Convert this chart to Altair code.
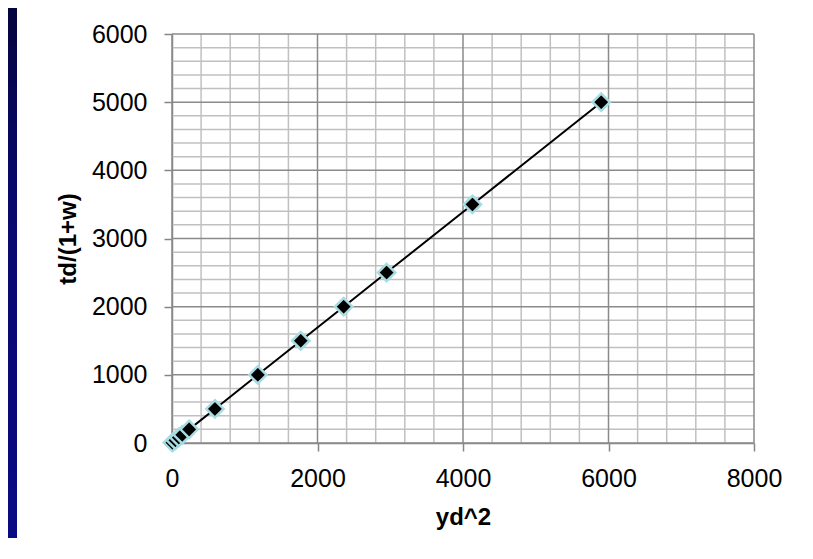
import altair as alt
import pandas as pd

# data
yd2 = [6, 47, 94, 141, 236, 590, 1180, 1770, 2360, 2950, 4130, 5900]
td_1w = [5, 40, 80, 120, 200, 500, 1000, 1500, 2000, 2500, 3500, 5000]

x_major = [0, 2000, 4000, 6000, 8000]
y_major = [0, 1000, 2000, 3000, 4000, 5000, 6000]
x_minor = [v for v in range(0, 8001, 400) if v not in x_major]
y_minor = [v for v in range(0, 6001, 200) if v not in y_major]

W, H = 582, 409
PL, PT, PR, PB = 164, 26, 45, 95
FONT = "Liberation Sans"
AX = "#868686"

df = pd.DataFrame({"x": yd2, "y": td_1w})
xs = alt.Scale(domain=[0, 8000], nice=False, zero=False)
ys = alt.Scale(domain=[0, 6000], nice=False, zero=False)

axis_x = alt.Axis(values=x_major, format="d", title="yd^2", grid=False, domainColor=AX, domainWidth=1.5,
                  tickColor=AX, tickWidth=1.5, tickSize=8, labelPadding=15, labelFlush=False,
                  labelFont=FONT, labelFontSize=25, labelColor="black",
                  titleFont=FONT, titleFontSize=24, titleFontWeight="bold", titleColor="black",
                  titleX=W / 2, titleY=62, titleBaseline="top")
axis_y = alt.Axis(values=y_major, format="d", title="td/(1+w)", grid=False, domainColor=AX, domainWidth=1.5,
                  tickColor=AX, tickWidth=1.5, tickSize=8, labelPadding=17, labelFlush=False,
                  labelFont=FONT, labelFontSize=25, labelColor="black",
                  titleFont=FONT, titleFontSize=24, titleFontWeight="bold", titleColor="black",
                  titleX=-92, titleY=H / 2, titleAngle=-90, titleBaseline="bottom")

X = alt.X("x:Q", scale=xs, axis=axis_x)
Y = alt.Y("y:Q", scale=ys, axis=axis_y)

strip = alt.Chart(pd.DataFrame({"a": [0]})).mark_rect(
    color=alt.LinearGradient(gradient="linear",
                             stops=[alt.GradientStop(color="#05053e", offset=0),
                                    alt.GradientStop(color="#08086c", offset=0.35),
                                    alt.GradientStop(color="#0a0a84", offset=1)],
                             x1=0, x2=0, y1=0, y2=1)
).encode(x=alt.value(-PL), x2=alt.value(-PL + 9), y=alt.value(-PT), y2=alt.value(H + PB))

vminor = alt.Chart(pd.DataFrame({"x": x_minor})).mark_rule(color="#c0c0c0", strokeWidth=1.5).encode(x=X)
hminor = alt.Chart(pd.DataFrame({"y": y_minor})).mark_rule(color="#c0c0c0", strokeWidth=1.5).encode(y=Y)
vmajor = alt.Chart(pd.DataFrame({"x": x_major})).mark_rule(color="#8a8a8a", strokeWidth=1.5).encode(x=X)
hmajor = alt.Chart(pd.DataFrame({"y": y_major})).mark_rule(color="#8a8a8a", strokeWidth=1.5).encode(y=Y)

line = alt.Chart(df).mark_line(color="black", strokeWidth=2).encode(x=X, y=Y)
pts = alt.Chart(df).mark_point(shape="diamond", filled=True, fill="black", stroke="#a8dce2",
                               strokeWidth=2.5, size=300, opacity=1).encode(x=X, y=Y)

chart = alt.layer(strip, vminor, hminor, vmajor, hmajor, line, pts).properties(
    width=W, height=H,
    autosize=alt.AutoSizeParams(type="none"),
    padding={"left": PL, "top": PT, "right": PR, "bottom": PB},
    background="white",
).configure_view(stroke=None)

chart.save("out.html", embed_options={"renderer": "svg", "actions": False})
